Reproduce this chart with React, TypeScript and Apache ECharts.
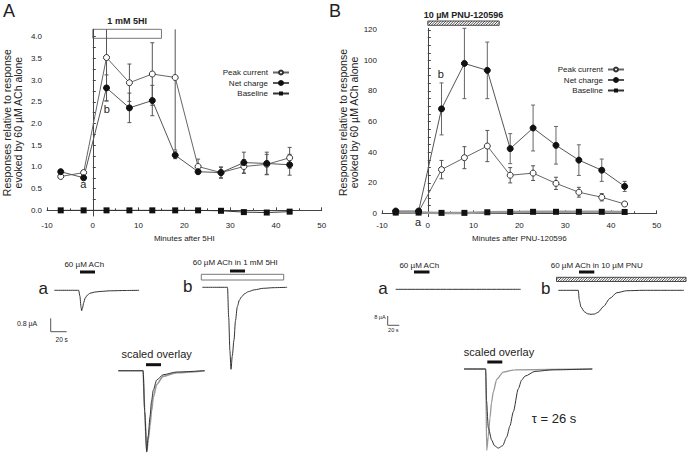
import React, { useEffect, useRef } from "react";
import * as echarts from "echarts";

// ---------- data ----------
const minutes = [-7, -2, 3, 8, 13, 18, 23, 28, 33, 38, 43];
const xTickLabels = [-10, 0, 10, 20, 30, 40, 50];
const aYLabels = [0, 0.5, 1, 1.5, 2, 2.5, 3, 3.5, 4];
const bYLabels = [0, 20, 40, 60, 80, 100, 120];

const aPeak = [0.78, 0.87, 3.52, 2.94, 3.14, 3.06, 1.01, 0.87, 1.01, 1.06, 1.21];
const aPeakErr = [0.03, 0.03, 1.0, 0.43, 0.72, 1.67, 0.17, 0.13, 0.16, 0.23, 0.24];
const aNet = [0.89, 0.75, 2.82, 2.36, 2.53, 1.27, 0.89, 0.87, 1.1, 1.08, 1.05];
const aNetErr = [0.03, 0.03, 0.3, 0.34, 0.35, 0.08, 0.04, 0.12, 0.24, 0.26, 0.24];
const aBase = [0, 0, 0, 0, 0, 0, 0, -0.01, -0.04, -0.05, -0.03];

const bPeak = [1.0, 1.0, 28.6, 36.4, 44.0, 24.9, 26.3, 19.6, 13.8, 10.5, 6.1];
const bPeakErr = [0.3, 0.3, 6.0, 7.2, 10.2, 5.0, 4.8, 4.0, 3.2, 2.4, 1.0];
const bNet = [1.5, 1.5, 68.3, 98.0, 93.5, 42.3, 55.8, 44.5, 34.8, 28.2, 17.6];
const bNetErr = [0.4, 0.4, 17.0, 23.0, 18.5, 9.8, 15.0, 12.3, 10.0, 7.3, 3.3];
const bBase = [0.5, 0.5, 0.3, 0.3, 0.7, 0.9, 1.0, 1.0, 1.0, 1.0, 0.9];

// current traces (time in s, current in µA)
const traceAaT = [0, 30.5, 32, 33.4, 34.2, 35.3, 36.7, 38.5, 41, 44.6, 50, 57, 70, 90, 106];
const traceAaI = [0, 0, -0.35, -1.0, -1.22, -1.05, -0.75, -0.48, -0.3, -0.18, -0.11, -0.07, -0.03, -0.01, 0];
const traceAbT = [0, 31.5, 33, 34.5, 35.9, 37.5, 39.6, 41.5, 43.75, 46.5, 49.25, 53, 57.5, 65, 76.25, 90, 106];
const traceAbI = [0, 0, -1.8, -3.8, -4.91, -4.1, -3.16, -2.0, -1.16, -0.75, -0.56, -0.38, -0.26, -0.15, -0.06, -0.02, 0];
// scaled overlay A (normalised)
const ovAT = [0, 31, 33, 35.5, 37.5, 39.6, 41.5, 43.75, 48, 56, 73, 108];
const ovA1 = [0, 0, -0.5, -1, -0.8, -0.57, -0.38, -0.24, -0.115, -0.05, -0.016, 0];
const ovA2 = [0, 0, -0.5, -1, -0.85, -0.68, -0.5, -0.33, -0.17, -0.07, -0.025, 0];

const traceBaT = [0, 213.7];
const traceBaI = [0, 0];
const traceBbT = [0, 34.2, 35.9, 38.8, 44.4, 50, 56, 62, 67.9, 76.9, 88.4, 99.8, 116.9, 145, 214.9];
const traceBbI = [0, 0, -8.4, -14.4, -18.4, -20.2, -20.7, -20.4, -19, -14.1, -6.9, -2.1, -0.35, 0, 0];
// scaled overlay B (normalised)
const ovBT1 = [0, 37.1, 38.5, 41.5, 47.4, 52, 58.6, 66, 73, 78.5, 84.3, 92.8, 98.5, 104.3, 121.4, 152.6, 219.3];
const ovB1 = [0, 0, -0.4, -0.74, -0.9, -0.97, -1.0, -0.97, -0.86, -0.72, -0.54, -0.25, -0.14, -0.09, -0.03, -0.01, 0];
const ovBT2 = [0, 37.1, 38.8, 41.5, 44.4, 47, 50.1, 55.9, 67.2, 87, 219.3];
const ovB2 = [0, 0, -1.03, -0.85, -0.62, -0.43, -0.29, -0.13, -0.04, -0.01, 0];

// ---------- helpers ----------
const FONT = "Liberation Sans, Arial, Helvetica, sans-serif";
const zip = (a: number[], b: number[]) => a.map((v, i) => [v, b[i]]);
const errData = (v: number[], e: number[]) => minutes.map((m, i) => [m, v[i] - e[i], v[i] + e[i]]);
const range = (a: number, b: number, s: number) => {
  const r: number[] = [];
  for (let i = 0; a + i * s <= b + 1e-9; i++) r.push(+(a + i * s).toFixed(4));
  return r;
};

function errSeries(data: number[][], idx: number, color: string) {
  return {
    type: "custom",
    xAxisIndex: idx,
    yAxisIndex: idx,
    z: 1,
    silent: true,
    data,
    renderItem: (params: any, api: any) => {
      const x = api.value(0);
      const pLo = api.coord([x, api.value(1)]);
      const pHi = api.coord([x, api.value(2)]);
      const cs = params.coordSys;
      const top = cs.y;
      const bottom = cs.y + cs.height;
      const capHi = pHi[1] >= top;
      const capLo = pLo[1] <= bottom;
      const yHi = Math.max(pHi[1], top);
      const yLo = Math.min(pLo[1], bottom);
      const st = { stroke: color, lineWidth: 1 };
      const ch: any[] = [
        { type: "line", shape: { x1: pLo[0], y1: yLo, x2: pLo[0], y2: yHi }, style: st },
      ];
      if (capHi) ch.push({ type: "line", shape: { x1: pHi[0] - 2, y1: yHi, x2: pHi[0] + 2, y2: yHi }, style: st });
      if (capLo) ch.push({ type: "line", shape: { x1: pLo[0] - 2, y1: yLo, x2: pLo[0] + 2, y2: yLo }, style: st });
      return { type: "group", children: ch };
    },
  };
}

function mainSeries(idx: number, peak: number[], net: number[], base: number[], baseLine: any) {
  return [
    {
      name: "Peak current",
      type: "line",
      xAxisIndex: idx,
      yAxisIndex: idx,
      z: 3,
      data: zip(minutes, peak),
      symbol: "circle",
      symbolSize: 6,
      itemStyle: { color: "#fff", borderColor: "#333", borderWidth: 1 },
      lineStyle: { color: "#666", width: 1 },
    },
    {
      name: "Net charge",
      type: "line",
      xAxisIndex: idx,
      yAxisIndex: idx,
      z: 3,
      data: zip(minutes, net),
      symbol: "circle",
      symbolSize: 6,
      itemStyle: { color: "#111", borderColor: "#111", borderWidth: 1 },
      lineStyle: { color: "#555", width: 1 },
    },
    {
      name: "Baseline",
      type: "line",
      xAxisIndex: idx,
      yAxisIndex: idx,
      z: 3,
      data: zip(minutes, base),
      symbol: "rect",
      symbolSize: 6,
      itemStyle: { color: "#111" },
      lineStyle: baseLine,
    },
  ];
}

function traceSeries(idx: number, t: number[], v: number[], color: string, width = 1) {
  return {
    type: "line",
    xAxisIndex: idx,
    yAxisIndex: idx,
    data: zip(t, v),
    symbol: "none",
    showSymbol: false,
    smooth: 0.25,
    smoothMonotone: "x",
    clip: false,
    silent: true,
    lineStyle: { color, width },
  };
}

function hatch(x0: number, y0: number, x1: number, y1: number, step: number) {
  const h = y1 - y0;
  const out: any[] = [
    { type: "rect", shape: { x: x0, y: y0, width: x1 - x0, height: h }, style: { fill: "#fff", stroke: "#222", lineWidth: 0.8 } },
  ];
  for (let s = x0 - h; s < x1; s += step) {
    let xa = s, ya = y1, xb = s + h, yb = y0;
    if (xa < x0) { ya = y1 - (x0 - xa); xa = x0; }
    if (xb > x1) { yb = y1 - (x1 - s); xb = x1; }
    out.push({ type: "line", shape: { x1: xa, y1: ya, x2: xb, y2: yb }, style: { stroke: "#222", lineWidth: 0.8 } });
  }
  return out;
}

const txt = (x: number, y: number, text: string, size: number, extra: any = {}) => ({
  type: "text",
  x,
  y,
  style: { text, fontSize: size, fontFamily: FONT, fill: "#222", align: "center", verticalAlign: "middle", ...extra },
});
const bar = (x0: number, x1: number, y: number) => ({
  type: "rect",
  shape: { x: x0, y: y - 1.5, width: x1 - x0, height: 3 },
  style: { fill: "#111" },
});
const seg = (pts: number[][], color = "#555") => ({
  type: "polyline",
  shape: { points: pts },
  style: { stroke: color, lineWidth: 1, fill: null },
});

export default function App() {
  const ref = useRef<HTMLDivElement>(null);
  useEffect(() => {
    document.body.style.margin = "0";
    const chart = echarts.init(ref.current!, null, { renderer: "svg" });

    const axisCommon = {
      axisLine: { show: true, lineStyle: { color: "#444", width: 1 } },
      splitLine: { show: false },
      axisLabel: { fontSize: 8, color: "#222", fontFamily: FONT, margin: 5 },
      nameTextStyle: { fontSize: 8, color: "#222", fontFamily: FONT },
    };
    const xMain = (idx: number, name: string) => ({
      type: "value",
      gridIndex: idx,
      min: -10,
      max: 50,
      interval: 10,
      name,
      nameLocation: "middle",
      nameGap: 18,
      ...axisCommon,
      axisLabel: { ...axisCommon.axisLabel, customValues: xTickLabels },
      axisTick: { show: true, inside: true, length: 3, lineStyle: { color: "#444" } },
      minorTick: { show: true, splitNumber: 2, length: 2, lineStyle: { color: "#444" } },
    });
    const yName = "Responses relative to response\nevoked by 60 µM ACh alone";
    const hidden = (idx: number, min: number, max: number) => ({
      type: "value",
      gridIndex: idx,
      min,
      max,
      show: false,
    });

    const grids = [
      { left: 46.5, top: 29.3, width: 275.2, height: 186.7 },
      { left: 382, top: 28.3, width: 274.7, height: 188.4 },
      { left: 54.3, top: 285.3, width: 84.8, height: 26.72 },
      { left: 202.3, top: 282.3, width: 84.8, height: 91.85 },
      { left: 118.3, top: 362.6, width: 86.7, height: 93.15 },
      { left: 395.7, top: 287, width: 125, height: 4.64 },
      { left: 558.3, top: 288, width: 125.7, height: 27.84 },
      { left: 464, top: 361.1, width: 128.3, height: 98.4 },
    ];

    const legendCommon = {
      orient: "vertical",
      align: "right",
      itemWidth: 16,
      itemHeight: 5,
      itemGap: 1.5,
      data: ["Peak current", "Net charge", "Baseline"],
      textStyle: { fontSize: 8, color: "#222", fontFamily: FONT, lineHeight: 9, padding: 0 },
      selectedMode: false,
      padding: 0,
    };

    chart.setOption({
      animation: false,
      textStyle: { fontFamily: FONT },
      grid: grids,
      legend: [
        { ...legendCommon, right: 398, top: 68 },
        { ...legendCommon, right: 63, top: 65 },
      ],
      xAxis: [
        xMain(0, "Minutes after 5HI"),
        xMain(1, "Minutes after PNU-120596"),
        hidden(2, 0, 106),
        hidden(3, 0, 106),
        hidden(4, 0, 108.4),
        hidden(5, 0, 213.7),
        hidden(6, 0, 214.9),
        hidden(7, 0, 219.3),
      ],
      yAxis: [
        {
          type: "value",
          gridIndex: 0,
          min: -0.13,
          max: 4.17,
          name: yName,
          nameLocation: "middle",
          nameGap: 23,
          ...axisCommon,
          nameTextStyle: { fontSize: 10.5, lineHeight: 11.5, color: "#222", fontFamily: FONT },
          axisLabel: { ...axisCommon.axisLabel, customValues: aYLabels, formatter: (v: number) => v.toFixed(1) },
          axisTick: { show: true, inside: true, length: 3, customValues: range(0, 4, 0.25), lineStyle: { color: "#444" } },
        },
        {
          type: "value",
          gridIndex: 1,
          min: -2.2,
          max: 121,
          name: yName,
          nameLocation: "middle",
          nameGap: 19,
          ...axisCommon,
          nameTextStyle: { fontSize: 10.5, lineHeight: 11.5, color: "#222", fontFamily: FONT },
          axisLabel: { ...axisCommon.axisLabel, customValues: bYLabels },
          axisTick: { show: true, inside: true, length: 3, customValues: range(0, 120, 5), lineStyle: { color: "#444" } },
        },
        hidden(2, -1.3, 0.3),
        hidden(3, -5.2, 0.3),
        hidden(4, -1.05, 0.1),
        hidden(5, -2, 2),
        hidden(6, -22, 2),
        hidden(7, -1.1, 0.1),
      ],
      series: [
        errSeries(errData(aPeak, aPeakErr), 0, "#555"),
        errSeries(errData(aNet, aNetErr), 0, "#555"),
        ...mainSeries(0, aPeak, aNet, aBase, { color: "#333", width: 1 }),
        errSeries(errData(bPeak, bPeakErr), 1, "#555"),
        errSeries(errData(bNet, bNetErr), 1, "#666"),
        ...mainSeries(1, bPeak, bNet, bBase, { color: "#999", width: 2.5 }),
        traceSeries(2, traceAaT, traceAaI, "#333"),
        traceSeries(3, traceAbT, traceAbI, "#333"),
        traceSeries(4, ovAT, ovA2, "#999", 1.6),
        traceSeries(4, ovAT, ovA1, "#333"),
        traceSeries(5, traceBaT, traceBaI, "#333"),
        traceSeries(6, traceBbT, traceBbI, "#333"),
        traceSeries(7, ovBT2, ovB2, "#999", 1.3),
        traceSeries(7, ovBT1, ovB1, "#333"),
      ],
    });

    // drug application bars positioned through the axes
    const a0 = chart.convertToPixel({ gridIndex: 0 }, [0, 4]) as number[];
    const a1 = chart.convertToPixel({ gridIndex: 0 }, [15, 4]) as number[];
    const b0 = chart.convertToPixel({ gridIndex: 1 }, [0, 120]) as number[];
    const b1 = chart.convertToPixel({ gridIndex: 1 }, [15.6, 120]) as number[];

    const graphic: any[] = [
      // panel letters
      txt(9, 11, "A", 18),
      txt(335, 11, "B", 18),
      // drug bars on the plots
      { type: "rect", z: -1, shape: { x: a0[0], y: 29.3, width: a1[0] - a0[0], height: 9 }, style: { fill: "#fff", stroke: "#777", lineWidth: 1 } },
      txt((a0[0] + a1[0]) / 2, 21, "1 mM 5HI", 9, { fontWeight: "bold" }),
      ...hatch(b0[0], 21, b1[0], 25.3, 2.6),
      txt((b0[0] + b1[0]) / 2, 14.5, "10 µM PNU-120596", 9, { fontWeight: "bold" }),
      // point labels
      txt(83.3, 184.3, "a", 11),
      txt(106.7, 109, "b", 11),
      txt(440.7, 74, "b", 11),
      txt(418, 221.5, "a", 11),
      // A traces annotations
      txt(84.3, 264.7, "60 µM ACh", 8),
      bar(80, 95, 272),
      txt(43.3, 288, "a", 17),
      txt(235.3, 262.7, "60 µM ACh in 1 mM 5HI", 8),
      { type: "rect", shape: { x: 201.3, y: 274.3, width: 82.4, height: 5.7 }, style: { fill: "#fff", stroke: "#777", lineWidth: 1 } },
      bar(230, 245, 271),
      txt(187.7, 286.5, "b", 17),
      seg([[50.7, 318.3], [50.7, 331.7], [66.7, 331.7]]),
      txt(37.3, 323.7, "0.8 µA", 7, { align: "right" }),
      txt(61.7, 339.3, "20 s", 6.5),
      txt(156.7, 354.3, "scaled overlay", 11),
      bar(146, 161, 364.7),
      // B traces annotations
      txt(419.3, 265.7, "60 µM ACh", 8),
      bar(414, 429.5, 272),
      txt(383, 288, "a", 17),
      txt(596.7, 265, "60 µM ACh in 10 µM PNU", 8),
      ...hatch(556.5, 277.3, 686, 281.5, 2.6),
      bar(579, 594.3, 272),
      txt(545.7, 288, "b", 17),
      seg([[387.7, 316], [387.7, 325.3], [399.3, 325.3]]),
      txt(385.7, 317, "8 µA", 5.5, { align: "right" }),
      txt(393.3, 330, "20 s", 5.5),
      txt(499, 351.7, "scaled overlay", 11),
      bar(487.3, 502.3, 362),
      txt(554, 418.3, "τ = 26 s", 13),
    ];
    chart.setOption({ graphic });

    return () => chart.dispose();
  }, []);
  return <div ref={ref} style={{ width: 688, height: 456 }} />;
}
